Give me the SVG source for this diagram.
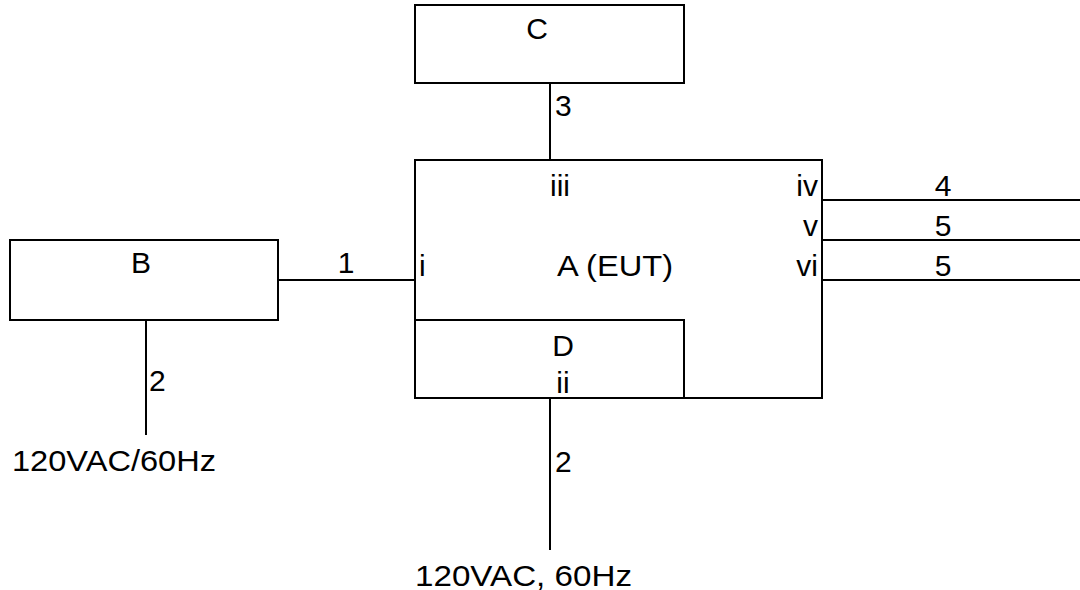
<svg xmlns="http://www.w3.org/2000/svg" width="1080" height="590" viewBox="0 0 1080 590">
<style>
.box{fill:none;stroke:#000;stroke-width:2}
.ln{stroke:#000;stroke-width:2;fill:none}
text{font-family:"Liberation Sans",Arial,sans-serif;font-size:30px;fill:#000}
.m{text-anchor:middle}
.e{text-anchor:end}
</style>
<rect width="1080" height="590" fill="#fff"/>
<g id="connectors">
<line class="ln" x1="550" y1="83" x2="550" y2="160"/>
<line class="ln" x1="278" y1="280" x2="415" y2="280"/>
<line class="ln" x1="146" y1="320" x2="146" y2="435"/>
<line class="ln" x1="550" y1="398" x2="550" y2="550"/>
<line class="ln" x1="822" y1="200" x2="1080" y2="200"/>
<line class="ln" x1="822" y1="240" x2="1080" y2="240"/>
<line class="ln" x1="822" y1="280" x2="1080" y2="280"/>
<text x="555" y="116">3</text>
<text class="m" x="346" y="273">1</text>
<text x="149" y="391">2</text>
<text x="555" y="472">2</text>
<text class="m" x="943" y="196">4</text>
<text class="m" x="943" y="236">5</text>
<text class="m" x="943" y="276">5</text>
<text x="12" y="471" textLength="204" lengthAdjust="spacingAndGlyphs">120VAC/60Hz</text>
<text x="415" y="586" textLength="217" lengthAdjust="spacingAndGlyphs">120VAC, 60Hz</text>
</g>
<g id="C">
<rect class="box" x="415" y="5" width="269" height="78"/>
<text class="m" x="537" y="39">C</text>
</g>
<g id="A">
<rect class="box" x="415" y="160" width="407" height="238"/>
<text class="m" x="560" y="196">iii</text>
<text class="e" x="818" y="196">iv</text>
<text class="e" x="818" y="236">v</text>
<text class="e" x="818" y="276">vi</text>
<text x="419" y="276">i</text>
<text x="557" y="276" textLength="116" lengthAdjust="spacingAndGlyphs">A (EUT)</text>
</g>
<g id="B">
<rect class="box" x="10" y="240" width="268" height="80"/>
<text class="m" x="141" y="273">B</text>
</g>
<g id="D">
<rect class="box" x="415" y="320" width="269" height="78"/>
<text class="m" x="563" y="356">D</text>
<text class="m" x="563" y="393">ii</text>
</g>
</svg>
